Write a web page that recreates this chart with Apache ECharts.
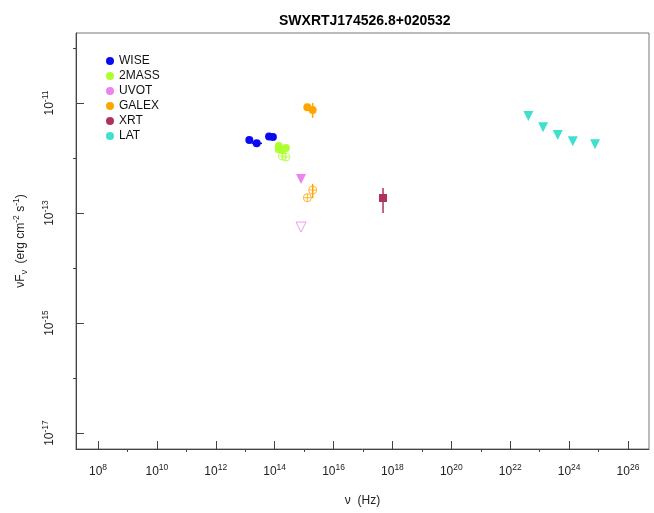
<!DOCTYPE html>
<html>
<head>
<meta charset="utf-8">
<script src="https://cdn.jsdelivr.net/npm/echarts@6/dist/echarts.min.js"></script>
<style>
  html, body { margin: 0; padding: 0; background: #fff; }
  #chart { width: 654px; height: 513px; }
</style>
</head>
<body>
<div id="chart"></div>
<script>
// all values in log10 space: [log10(nu / Hz), log10(nuFnu / erg cm^-2 s^-1)]
const wise = [[13.14, -11.673], [13.39, -11.733], [13.81, -11.609], [13.94, -11.618]]
const wiseXErr = [[13.39, 13.22, 13.57, -11.733]]
const twomass = [[14.14, -11.782], [14.26, -11.855], [14.38, -11.818], [14.14, -11.84]]
const twomassOpen = [[14.26, -11.964], [14.38, -11.982]]
const uvot = [[14.895, -12.382]]
const uvotOpen = [[14.895, -13.255]]
const galex = [[15.11, -11.078], [15.29, -11.127]]
const galexOpen = [[15.11, -12.722], [15.29, -12.582]]
const galexYErr = [[15.29, -11.0, -11.27], [15.29, -12.47, -12.73]]
const xrt = [[17.68, -12.727]]
const xrtYErr = [[17.68, -12.545, -13.0]]
const lat = [[22.616, -11.236], [23.115, -11.442], [23.615, -11.582], [24.125, -11.696], [24.882, -11.751]]

const xMajor = [8, 10, 12, 14, 16, 18, 20, 22, 24, 26]
const xMinor = [9, 11, 13, 15, 17, 19, 21, 23, 25]
const yMajor = [-17, -15, -13, -11]
const yMinor = [-16, -14, -12, -10]
const legendNames = ['WISE', '2MASS', 'UVOT', 'GALEX', 'XRT', 'LAT']

const colors = {
  WISE: '#0a0af0',
  '2MASS': '#adff2f',
  UVOT: '#ee82ee',
  GALEX: '#ffa500',
  XRT: '#b03060',
  LAT: '#40e0d0'
}

const crossCircle = 'path://M0,-10A10,10 0 1,1 0,10A10,10 0 1,1 0,-10ZM-10,0L10,0M0,-10L0,10'

function errBars(name, data, vertical) {
  return {
    name: name,
    type: 'custom',
    silent: true,
    z: 1,
    itemStyle: { color: colors[name] },
    data: data,
    renderItem: function (params, api) {
      let a, b
      if (vertical) {
        a = api.coord([api.value(0), api.value(1)])
        b = api.coord([api.value(0), api.value(2)])
      } else {
        a = api.coord([api.value(1), api.value(3)])
        b = api.coord([api.value(2), api.value(3)])
      }
      return {
        type: 'line',
        shape: { x1: a[0], y1: a[1], x2: b[0], y2: b[1] },
        style: { stroke: colors[name], lineWidth: 1.5 }
      }
    }
  }
}

function filled(name, data, symbol, size, rot) {
  return {
    name: name, type: 'scatter', data: data, symbol: symbol,
    symbolSize: size, symbolRotate: rot || 0, z: 3,
    itemStyle: { color: colors[name], opacity: 1 }
  }
}

function hollow(name, data, symbol, size, rot) {
  return {
    name: name, type: 'scatter', data: data, symbol: symbol,
    symbolSize: size, symbolRotate: rot || 0, z: 3,
    itemStyle: { color: 'rgba(0,0,0,0)', borderColor: colors[name], borderWidth: 1 }
  }
}

const font = 'Liberation Sans, Arial, sans-serif'
const supRich = {
  b: { fontSize: 12, fontFamily: font, color: '#222' },
  s: { fontSize: 8.5, fontFamily: font, color: '#222', verticalAlign: 'top', padding: [0, 0, 8, 0] }
}

let chart = echarts.init(document.getElementById('chart'))

let options = {
  animation: false,
  title: {
    text: 'SWXRTJ174526.8+020532',
    left: 274,
    top: 9,
    textStyle: { fontFamily: font, fontSize: 14, fontWeight: 'bold', color: '#000' }
  },
  legend: {
    orient: 'vertical',
    left: 101,
    top: 49,
    itemWidth: 8,
    itemHeight: 8,
    itemGap: 1,
    textStyle: { fontFamily: font, fontSize: 12, color: '#111', lineHeight: 14 },
    data: legendNames.map(n => ({
      name: n, icon: 'circle',
      itemStyle: { color: colors[n], borderWidth: 0 }
    }))
  },
  grid: {
    left: 76, right: 5, top: 33, bottom: 64,
    show: true, borderColor: '#777', borderWidth: 1
  },
  xAxis: [{
    type: 'value', min: 7.253, max: 26.713,
    name: 'ν  (Hz)', nameLocation: 'middle', nameGap: 46,
    nameTextStyle: { fontFamily: font, fontSize: 12, color: '#222' },
    splitLine: { show: false },
    axisLine: { lineStyle: { color: '#444', width: 1 } },
    axisTick: { customValues: xMajor, inside: true, length: 8, lineStyle: { color: '#444' } },
    axisLabel: {
      customValues: xMajor, margin: 14, fontFamily: font,
      formatter: v => '{b|10}{s|' + v + '}', rich: supRich
    }
  }, {
    type: 'value', min: 7.253, max: 26.713, position: 'bottom',
    splitLine: { show: false },
    axisLine: { show: false },
    axisTick: { customValues: xMinor, length: 3, lineStyle: { color: '#444' } },
    axisLabel: { show: false }
  }],
  yAxis: [{
    type: 'value', min: -17.29, max: -9.727,
    name: 'νF{sub|ν}  (erg cm{sup|-2} s{sup|-1})', nameLocation: 'middle', nameGap: 47, nameRotate: 90,
    nameTextStyle: {
      fontFamily: font, fontSize: 12, color: '#222',
      rich: {
        sub: { fontSize: 8.5, fontFamily: font, color: '#222', verticalAlign: 'bottom', padding: [6, 0, 0, 0] },
        sup: { fontSize: 8.5, fontFamily: font, color: '#222', verticalAlign: 'top', padding: [0, 0, 8, 0] }
      }
    },
    splitLine: { show: false },
    axisLine: { lineStyle: { color: '#444', width: 1 } },
    axisTick: { customValues: yMajor, inside: true, length: 8, lineStyle: { color: '#444' } },
    axisLabel: {
      customValues: yMajor, rotate: 90, margin: 18, fontFamily: font,
      formatter: v => '{b|10}{s|' + v + '}', rich: supRich
    }
  }, {
    type: 'value', min: -17.29, max: -9.727, position: 'left',
    splitLine: { show: false },
    axisLine: { show: false },
    axisTick: { customValues: yMinor, length: 3, lineStyle: { color: '#444' } },
    axisLabel: { show: false }
  }],
  series: [
    errBars('WISE', wiseXErr, false),
    filled('WISE', wise, 'circle', 8),
    filled('2MASS', twomass, 'circle', 8),
    hollow('2MASS', twomassOpen, crossCircle, 8),
    filled('UVOT', uvot, 'triangle', 10, 180),
    hollow('UVOT', uvotOpen, 'triangle', 10, 180),
    errBars('GALEX', galexYErr, true),
    filled('GALEX', galex, 'circle', 8),
    hollow('GALEX', galexOpen, crossCircle, 8),
    errBars('XRT', xrtYErr, true),
    filled('XRT', xrt, 'rect', 8),
    filled('LAT', lat, 'triangle', 10, 180)
  ]
}
options && chart.setOption(options)
</script>
</body>
</html>
